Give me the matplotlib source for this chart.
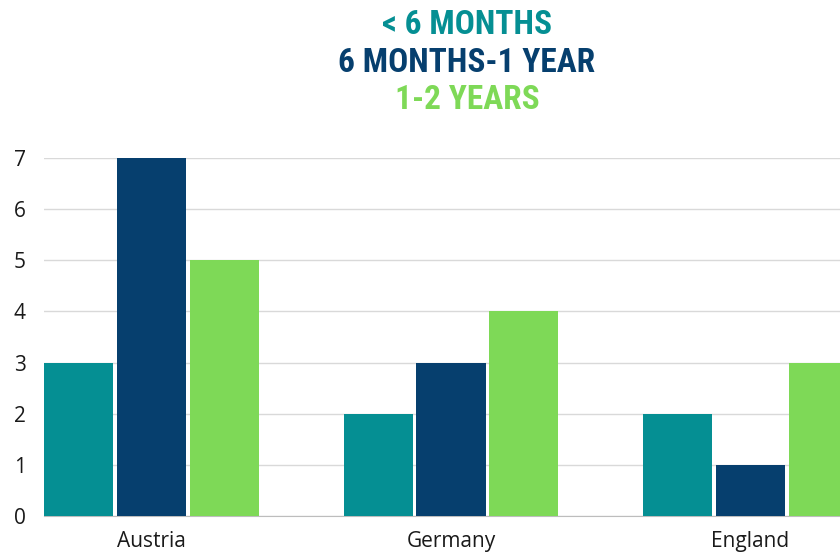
import matplotlib.pyplot as plt
import numpy as np

# data
countries = ['Austria', 'Germany', 'England']
series = ['< 6 MONTHS', '6 MONTHS-1 YEAR', '1-2 YEARS']
under_6m = [3, 2, 2]
six_m_1y = [7, 3, 1]
one_2y = [5, 4, 3]
colors = ['#058F93', '#063F6E', '#7ED957']

W, H = 840, 553
fig = plt.figure(figsize=(W / 100, H / 100), dpi=100)
# axes runs off the right edge, like the cropped original
ax = fig.add_axes([44 / W, 37 / H, 814 / W, 358 / H])

x = np.arange(len(countries))
bw = 0.2304
step = 0.2437
for i, vals in enumerate([under_6m, six_m_1y, one_2y]):
    ax.bar(x + (i - 1) * step, vals, width=bw, color=colors[i], zorder=3)

ax.set_xlim(-0.359, 2.359)
ax.set_ylim(0, 7)
ax.set_yticks(range(0, 8))
ax.set_xticks(x)
ax.set_xticklabels(countries)
ax.grid(axis='y', color='#d9d9d9', linewidth=1, zorder=0)
for s in ['top', 'right', 'left']:
    ax.spines[s].set_visible(False)
ax.spines['bottom'].set_color('#bdbdbd')
ax.tick_params(axis='both', length=0, labelsize=15, colors='#1a1a1a',
               labelfontfamily='Open Sans')
ax.tick_params(axis='y', pad=13)
ax.tick_params(axis='x', pad=11)

# stacked legend-like title
title_fam = ['Roboto Condensed', 'DejaVu Sans Condensed', 'Liberation Sans Narrow', 'Roboto']
ys = [25, 63, 100]
for lbl, c, yy in zip(series, colors, ys):
    fig.text(467 / W, 1 - yy / H, lbl, color=c, fontsize=24, fontweight='heavy',
             fontstretch='condensed', family=title_fam, ha='center', va='center')

fig.savefig('out.png', dpi=100)
